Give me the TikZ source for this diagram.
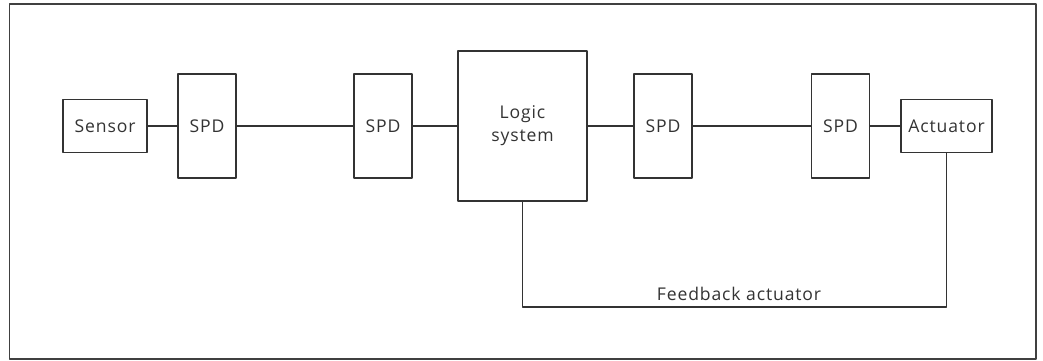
\documentclass[tikz,border=0pt]{standalone}
\usepackage{fontspec}
\setmainfont[LetterSpace=5]{Open Sans}
\usepackage{tikz}

\tikzset{
  blk/.style={draw=black!80, line width=1pt, inner sep=0pt, align=center,
    text=black!80, font=\fontsize{10}{13}\selectfont},
  wire/.style={draw=black!80, line width=1pt}
}

\begin{document}
\begin{tikzpicture}[line cap=round,line join=round,x=1cm,y=1cm]
          \useasboundingbox (0,0) rectangle (20.86,7.22);
          \draw[black!75, line width=0.9pt] (0.19,0.04) rectangle (20.72,7.14);

          \node[blk, minimum width=1.68cm, minimum height=1.06cm] (sensor) at (2.10,4.70) {Sensor};
          \node[blk, minimum width=1.16cm, minimum height=2.08cm] (spdA) at (4.14,4.70) {SPD};
          \node[blk, minimum width=1.16cm, minimum height=2.08cm] (spdB) at (7.66,4.70) {SPD};
          \node[blk, minimum width=2.58cm, minimum height=3.00cm] (logic) at (10.45,4.70) {Logic\\system};
          \node[blk, minimum width=1.16cm, minimum height=2.08cm] (spdC) at (13.26,4.70) {SPD};
          \node[blk, minimum width=1.16cm, minimum height=2.08cm] (spdD) at (16.81,4.70) {SPD};
          \node[blk, minimum width=1.82cm, minimum height=1.06cm] (act) at (18.93,4.70) {Actuator};

          \draw[wire] (sensor) -- (spdA) -- (spdB) -- (logic) -- (spdC) -- (spdD) -- (act);

          \coordinate (fb) at (14.78,1.08);
          \draw[wire] (logic.south) |- (fb) -| (act.south);
          \node[text=black!80, font=\fontsize{10}{13}\selectfont, above=0pt] (fblabel) at (fb) {Feedback actuator};
        \end{tikzpicture}
\end{document}
